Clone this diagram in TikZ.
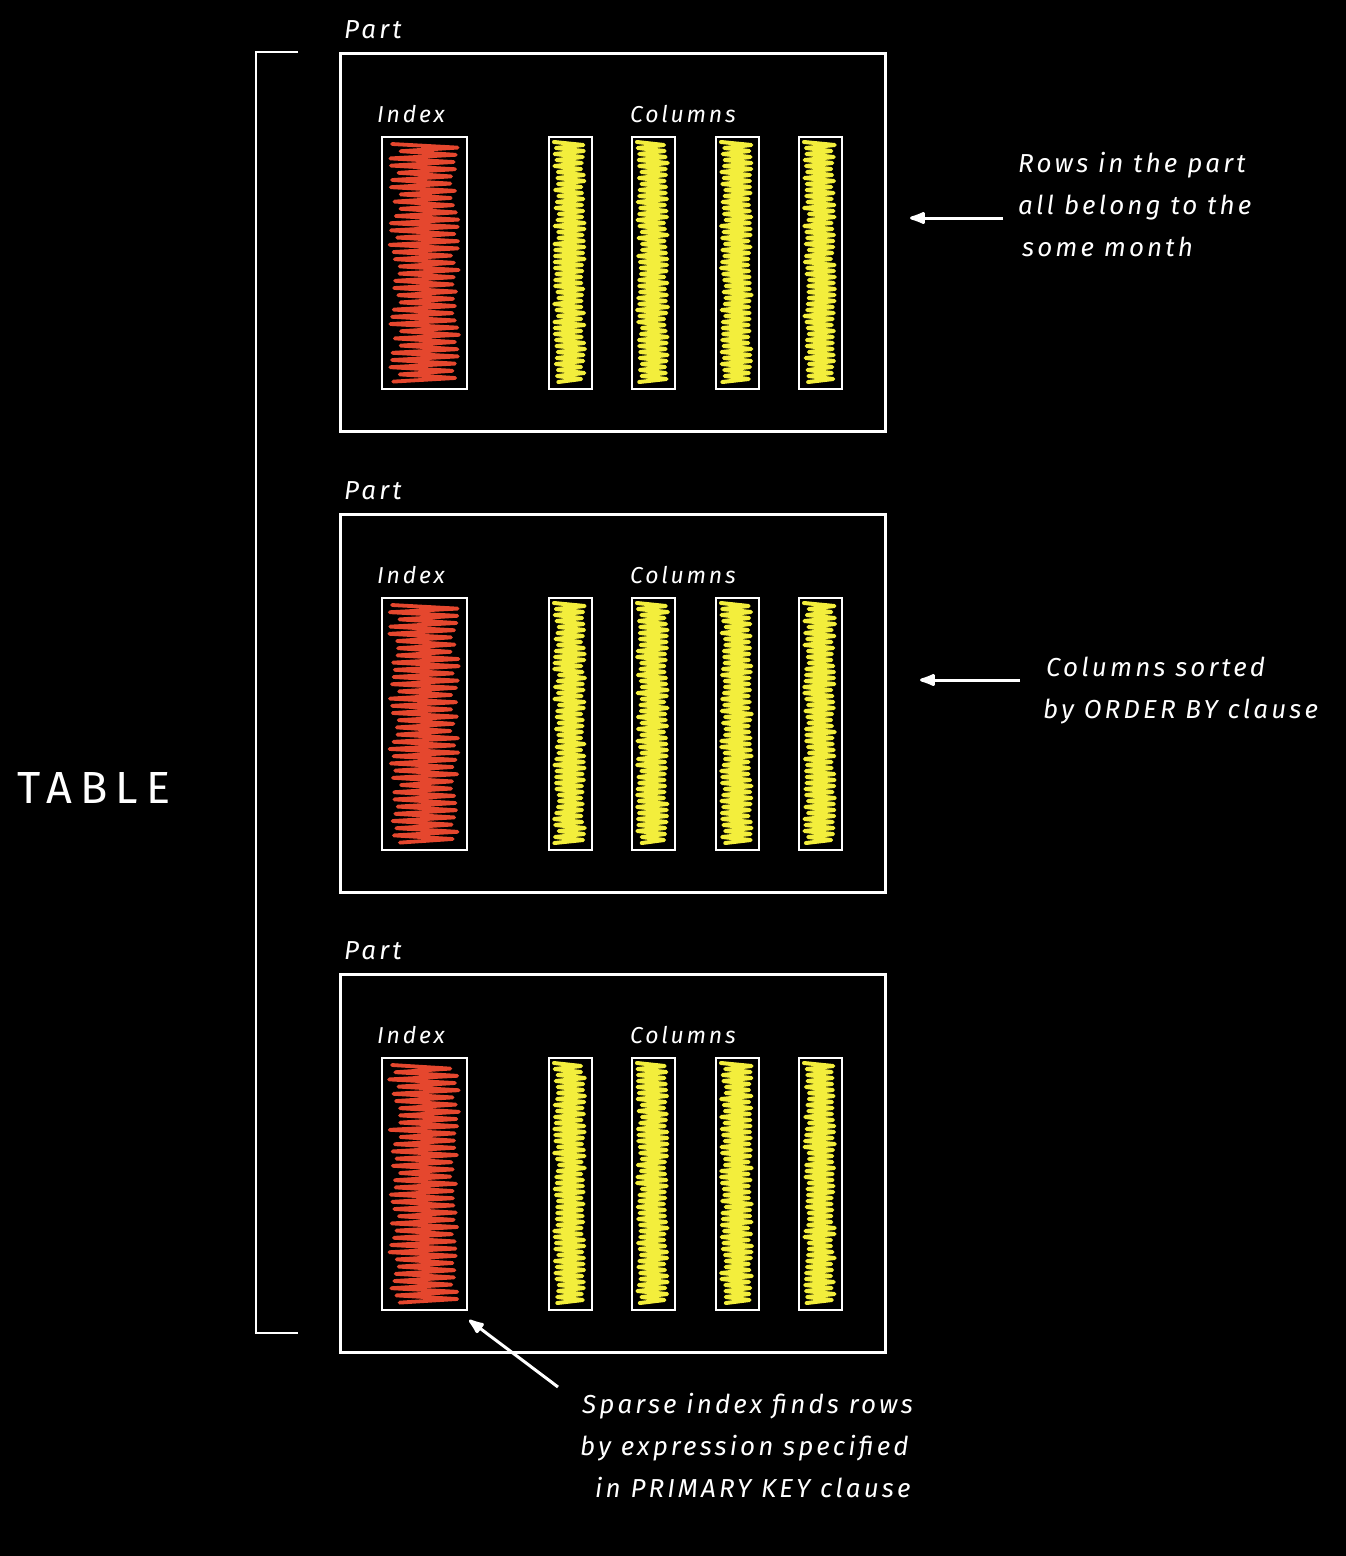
\documentclass[tikz,border=0pt]{standalone}
\usepackage{fontspec}
\newfontfamily\hand[LetterSpace=12]{Fira Sans}
\newfontfamily\handwide[LetterSpace=18]{Fira Sans}
\usetikzlibrary{arrows.meta}
\definecolor{scribred}{HTML}{E5472E}
\definecolor{scribyel}{HTML}{F3EE3C}
\tikzset{
  partbox/.style={draw=white, line width=2.6pt, inner sep=0pt, anchor=north west, minimum width=545pt, minimum height=378pt},
  idxbox/.style={draw=white, line width=2.2pt, inner sep=0pt, anchor=north west, minimum width=85pt, minimum height=252pt},
  colbox/.style={draw=white, line width=2.2pt, inner sep=0pt, anchor=north west, minimum width=43pt, minimum height=252pt},
  hw/.style={text=white, inner sep=0pt, anchor=base west, font=\hand\itshape\fontsize{26}{30}\selectfont},
  lbl/.style={text=white, inner sep=0pt, anchor=base west, font=\hand\itshape\fontsize{26}{30}\selectfont},
  sublbl/.style={text=white, inner sep=0pt, anchor=base west, font=\hand\itshape\fontsize{23}{27}\selectfont},
  redscrib/.style={draw=scribred, line width=3.8pt, line join=round, line cap=round},
  yelscrib/.style={draw=scribyel, line width=4pt, line join=round, line cap=round},
  wline/.style={draw=white, line width=2.6pt},
  note/.style={draw=white, line width=3pt, -{Latex[round,length=20pt,width=14pt]}},
}
\begin{document}
\begin{tikzpicture}[x=1pt,y=-1pt]
\fill[black] (0,0) rectangle (1346,1556);
\useasboundingbox (0,0) rectangle (1346,1556);
\pgfmathsetseed{7}
% bracket
\coordinate (bt) at (298,52);
\coordinate (btl) at (256,52);
\coordinate (bbl) at (256,1333);
\coordinate (bb) at (298,1333);
\draw[wline] (bt) -- (btl) -- (bbl) -- (bb);
\node[text=white, inner sep=0pt, anchor=base west, font=\handwide\fontsize{45}{48}\selectfont] (table) at (17,803) {TABLE};
% parts
\foreach \i/\t in {1/52,2/513,3/973} {
  \node[partbox] (part\i) at (339,\t) {};
  \node[lbl] (partlbl\i) at (344,\t-14) {Part};
  \node[sublbl] (idxlbl\i) at (377,\t+70) {Index};
  \node[sublbl] (collbl\i) at (630,\t+70) {Columns};
  \draw[redscrib] (392,\t+92) \foreach \k in {1,...,66} { -- ({ifthenelse(isodd(\k),459-rnd*9,389+rnd*12)},{\t+92+\k*3.6}) };
  \node[idxbox] (idx\i) at (381,\t+84) {};
  \foreach \c/\cx in {1/548,2/631,3/715,4/798} {
    \draw[yelscrib] (\cx+6,\t+90) \foreach \k in {1,...,80} { -- ({ifthenelse(isodd(\k),\cx+37-rnd*4,\cx+6+rnd*5)},{\t+90+\k*3.0}) };
    \node[colbox] (col\i\c) at (\cx,\t+84) {};
  }
}
% note 1
\node[hw] (n1a) at (1018,172) {Rows in the part};
\node[hw] (n1b) at (1018,214) {all belong to the};
\node[hw] (n1c) at (1022,256) {some month};
\coordinate (a1s) at (1003,218);
\coordinate (a1e) at (910,218);
\draw[note] (a1s) -- (a1e);
% note 2
\node[hw] (n2a) at (1046,676) {Columns sorted};
\node[hw] (n2b) at (1043,718) {by ORDER BY clause};
\coordinate (a2s) at (1020,680);
\coordinate (a2e) at (920,680);
\draw[note] (a2s) -- (a2e);
% note 3
\node[hw] (n3a) at (582,1413) {Sparse index finds rows};
\node[hw] (n3b) at (580,1455) {by expression specified};
\node[hw] (n3c) at (595,1497) {in PRIMARY KEY clause};
\coordinate (a3s) at (558,1387);
\coordinate (a3e) at (469,1320);
\draw[note] (a3s) -- (a3e);
\end{tikzpicture}
\end{document}
